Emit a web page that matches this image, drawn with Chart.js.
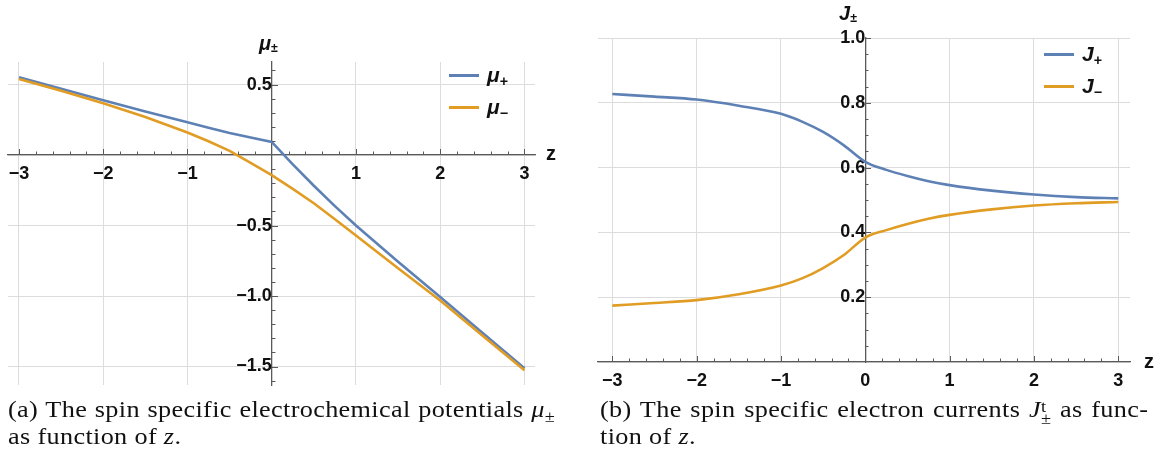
<!DOCTYPE html>
<html>
<head>
<meta charset="utf-8">
<script src="https://cdn.jsdelivr.net/npm/chart.js@4.4.1/dist/chart.umd.min.js"></script>
<style>
  html, body { margin: 0; padding: 0; background: #fff; }
  body { width: 1156px; height: 455px; position: relative; overflow: hidden; }
  canvas { position: absolute; top: 0; }
  #chartA { left: 0; }
  #chartB { left: 578px; }
  .lab { position: absolute; font-family: "Liberation Sans", Arial, sans-serif; font-weight: bold;
         font-size: 20px; color: #111; white-space: nowrap; line-height: 1; }
  .lab i { font-style: italic; }
  .lab sub { font-size: 0.62em; vertical-align: -0.2em; line-height: 0; }
  .legend { position: absolute; font-family: "Liberation Sans", Arial, sans-serif; font-weight: bold;
            font-size: 21px; color: #111; }
  .legend .row { display: flex; align-items: center; height: 32px; }
  .legend .sw { width: 30px; height: 3px; margin-right: 8px; }
  .legend i { font-style: italic; }
  .legend sub { font-size: 0.68em; vertical-align: -0.3em; line-height: 0; }
  .cap { position: absolute; font-family: "Liberation Serif", "DejaVu Serif", serif; font-size: 23px;
         letter-spacing: 0.3px; color: #111; line-height: 27px; white-space: nowrap;
         transform: scaleX(1.14); transform-origin: 0 0; }
  .cap.just { text-align: justify; text-align-last: justify; white-space: normal; }
  .cap sub { font-size: 0.7em; vertical-align: -0.3em; line-height: 0; }
  .ss { display: inline-block; vertical-align: -0.45em; line-height: 0.75; font-size: 0.7em; text-align: left; }
  .ss span { display: block; }
</style>
</head>
<body>
<canvas id="chartA" width="578" height="410"></canvas>
<canvas id="chartB" width="578" height="410"></canvas>

<div class="lab" style="left:259px; top:33px;"><i>μ</i><sub>±</sub></div>
<div class="lab" style="left:546px; top:143px;">z</div>
<div class="lab" style="left:839px; top:3px;"><i>J</i><sub>±</sub></div>
<div class="lab" style="left:1144px; top:351px;">z</div>

<div class="legend" id="legendA" style="left:449px; top:59px;"></div>
<div class="legend" id="legendB" style="left:1044px; top:38px;"></div>

<div class="cap just" style="left:8px; top:396px; width:480px;">(a) The spin specific electrochemical potentials <i>μ</i><sub>±</sub></div>
<div class="cap" style="left:8px; top:423px;">as function of <i>z</i>.</div>
<div class="cap just" style="left:600px; top:396px; width:481px;">(b) The spin specific electron currents <i>J</i><span class="ss"><span>t</span><span>±</span></span> as func-</div>
<div class="cap" style="left:600px; top:423px;">tion of <i>z</i>.</div>

<script>
const zPoints = [-3, -2.5, -2, -1.5, -1, -0.75, -0.5, -0.25, 0, 0.25, 0.5, 0.75, 1, 1.5, 2, 2.5, 3];

// (a) electrochemical potentials
const muPlus  = [0.552, 0.470, 0.388, 0.309, 0.232, 0.194, 0.157, 0.124, 0.093,
                 -0.066, -0.218, -0.362, -0.500, -0.757, -1.007, -1.260, -1.513];
const muMinus = [0.540, 0.456, 0.368, 0.270, 0.160, 0.098, 0.030, -0.055, -0.143,
                 -0.240, -0.342, -0.455, -0.570, -0.803, -1.032, -1.280, -1.527];

// (b) spin currents
const jPlus  = [0.827, 0.819, 0.810, 0.791, 0.766, 0.742, 0.710, 0.668, 0.618,
                0.593, 0.574, 0.558, 0.546, 0.529, 0.517, 0.509, 0.505];
const jMinus = [0.174, 0.182, 0.191, 0.209, 0.236, 0.258, 0.290, 0.331, 0.384,
                0.407, 0.426, 0.442, 0.454, 0.471, 0.483, 0.490, 0.494];

const zTicks  = [-3, -2, -1, 0, 1, 2, 3];
const muTicks = [-1.5, -1, -0.5, 0, 0.5];
const jTicks  = [0, 0.2, 0.4, 0.6, 0.8, 1];

const namesA = ['<i>μ</i><sub>+</sub>', '<i>μ</i><sub>−</sub>'];
const namesB = ['<i>J</i><sub>+</sub>', '<i>J</i><sub>−</sub>'];

const BLUE = '#5e81b5';
const ORANGE = '#e19c24';
const AXIS = '#5a5a5a';
const GRID = '#dcdcdc';
const tickFont = { family: '"Liberation Sans", Arial, sans-serif', size: 18, weight: 'bold' };

function pts(ys) {
    return zPoints.map((z, i) => ({ x: z, y: ys[i] }));
}

function minus(s) {
    return String(s).replace('-', '\u2212');
}

// small Mathematica-style ticks drawn on the axes
const axisTicks = {
    id: 'axisTicks',
    afterDraw(chart, args, o) {
        const ctx = chart.ctx;
        const xs = chart.scales.x, ys = chart.scales.y;
        const x0 = Math.round(xs.getPixelForValue(0));
        const y0 = Math.round(ys.getPixelForValue(0));
        ctx.save();
        ctx.strokeStyle = AXIS;
        ctx.lineWidth = 1;
        ctx.beginPath();
        for (let i = Math.ceil(xs.min / o.xMinor - 1e-6); i * o.xMinor <= xs.max + 1e-9; i++) {
            if (i === 0) continue;
            const v = i * o.xMinor;
            const major = Math.abs(v / o.xMajor - Math.round(v / o.xMajor)) < 1e-6;
            const px = Math.round(xs.getPixelForValue(v)) + 0.5;
            ctx.moveTo(px, y0);
            ctx.lineTo(px, y0 - (major ? 6 : 3.5));
        }
        for (let i = Math.ceil(ys.min / o.yMinor - 1e-6); i * o.yMinor <= ys.max + 1e-9; i++) {
            if (i === 0) continue;
            const v = i * o.yMinor;
            const major = Math.abs(v / o.yMajor - Math.round(v / o.yMajor)) < 1e-6;
            const py = Math.round(ys.getPixelForValue(v)) + 0.5;
            ctx.moveTo(x0, py);
            ctx.lineTo(x0 + (major ? 6 : 3.5), py);
        }
        ctx.stroke();
        ctx.restore();
    }
};

function makeChart(id, series, names, legendId, xr, yr, yTicks, yFmt, pads, minor, tension) {
    const colors = [BLUE, ORANGE];
    const chart = new Chart(document.getElementById(id), {
        type: 'line',
        data: {
            datasets: series.map((s, i) => ({
                data: pts(s),
                borderColor: colors[i],
                borderWidth: 2.6,
                pointRadius: 0,
                fill: false,
                tension: tension,
                cubicInterpolationMode: tension ? 'monotone' : 'default',
                order: 1 - i
            }))
        },
        options: {
            responsive: false,
            animation: false,
            layout: { padding: pads.layout },
            plugins: { legend: { display: false }, tooltip: { enabled: false }, axisTicks: minor },
            scales: {
                x: {
                    type: 'linear', min: xr[0], max: xr[1], position: { y: 0 },
                    afterBuildTicks: s => { s.ticks = zTicks.map(v => ({ value: v })); },
                    grid: { color: GRID, lineWidth: 1, drawTicks: false },
                    border: { color: AXIS, width: 1.3 },
                    ticks: {
                        padding: pads.x, font: tickFont, color: '#111', autoSkip: false, maxRotation: 0,
                        callback: v => (v === 0 && !pads.zeroX) ? '' : minus(v)
                    }
                },
                y: {
                    type: 'linear', min: yr[0], max: yr[1], position: { x: 0 },
                    afterBuildTicks: s => { s.ticks = yTicks.map(v => ({ value: v })); },
                    grid: { color: GRID, lineWidth: 1, drawTicks: false },
                    border: { color: AXIS, width: 1.3 },
                    ticks: {
                        padding: pads.y, font: tickFont, color: '#111', autoSkip: false,
                        callback: v => v === 0 ? '' : minus(yFmt(v))
                    }
                }
            }
        },
        plugins: [axisTicks]
    });

    // legend built from the datasets
    const box = document.getElementById(legendId);
    chart.data.datasets.forEach((ds, i) => {
        const row = document.createElement('div');
        row.className = 'row';
        row.innerHTML = '<span class="sw" style="background:' + ds.borderColor + '"></span><span>' + names[i] + '</span>';
        box.appendChild(row);
    });
    return chart;
}

makeChart('chartA', [muPlus, muMinus], namesA, 'legendA',
    [-3.13, 3.125], [-1.631, 0.66], muTicks, v => v.toFixed(1),
    { layout: { left: 8, right: 43, top: 62, bottom: 25 }, x: 8, y: 8, zeroX: false },
    { xMinor: 0.2, xMajor: 1, yMinor: 0.1, yMajor: 0.5 }, 0);

makeChart('chartB', [jPlus, jMinus], namesB, 'legendB',
    [-3.17, 3.14], [0, 1], jTicks, v => v.toFixed(1),
    { layout: { left: 20, right: 26, top: 38, bottom: 48 }, x: 8, y: 7, zeroX: true },
    { xMinor: 0.2, xMajor: 1, yMinor: 0.05, yMajor: 0.2 }, 0.4);
</script>
</body>
</html>
